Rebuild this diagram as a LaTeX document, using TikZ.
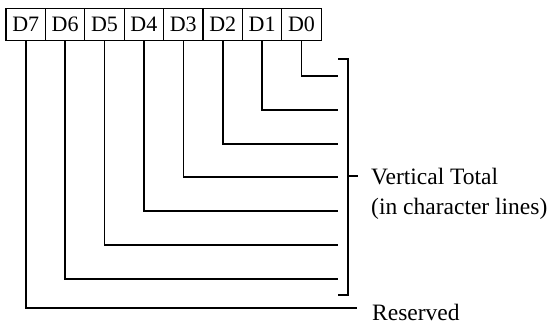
\documentclass[tikz,border=0pt]{standalone}
\usepackage{fontspec}
\setmainfont{Liberation Serif}
\begin{document}
\begin{tikzpicture}[x=1pt,y=-1pt,
  bitbox/.style={draw,line width=1.1pt,minimum width=39.4pt,minimum height=32pt,inner sep=0pt,font=\fontsize{22}{24}\selectfont},
  conn/.style={line width=1.6pt},
  lbl/.style={anchor=base west,inner sep=0pt,font=\fontsize{23.5}{26}\selectfont}]
\useasboundingbox (0,0) rectangle (548,324);
% bit boxes
\foreach \i/\b in {0/7,1/6,2/5,3/4,4/3,5/2,6/1,7/0}{
  \node[bitbox] (d\b) at ({25.7+39.4*\i},24.5) {D\b};
}
% end coordinates of the bit lines
\coordinate (e0) at (338,76);
\coordinate (e1) at (338,110);
\coordinate (e2) at (338,144);
\coordinate (e3) at (338,177);
\coordinate (e4) at (338,211);
\coordinate (e5) at (338,245);
\coordinate (e6) at (338,279);
\coordinate (e7) at (357,308);
\foreach \b in {0,...,7}{
  \draw[conn] (d\b.south) |- (e\b);
}
% bracket
\coordinate (bt) at (338,59);
\coordinate (bb) at (338,295);
\coordinate (tk) at (358,176);
\draw[conn] (bt) -- (348,59) -- (348,295) -- (bb);
\draw[conn] (348,176) -- (tk);
% labels
\node[lbl] (vt) at (371,184) {Vertical Total};
\node[lbl] (cl) at (371,214) {(in character lines)};
\node[lbl] (rs) at (372,320) {Reserved};
\end{tikzpicture}
\end{document}
